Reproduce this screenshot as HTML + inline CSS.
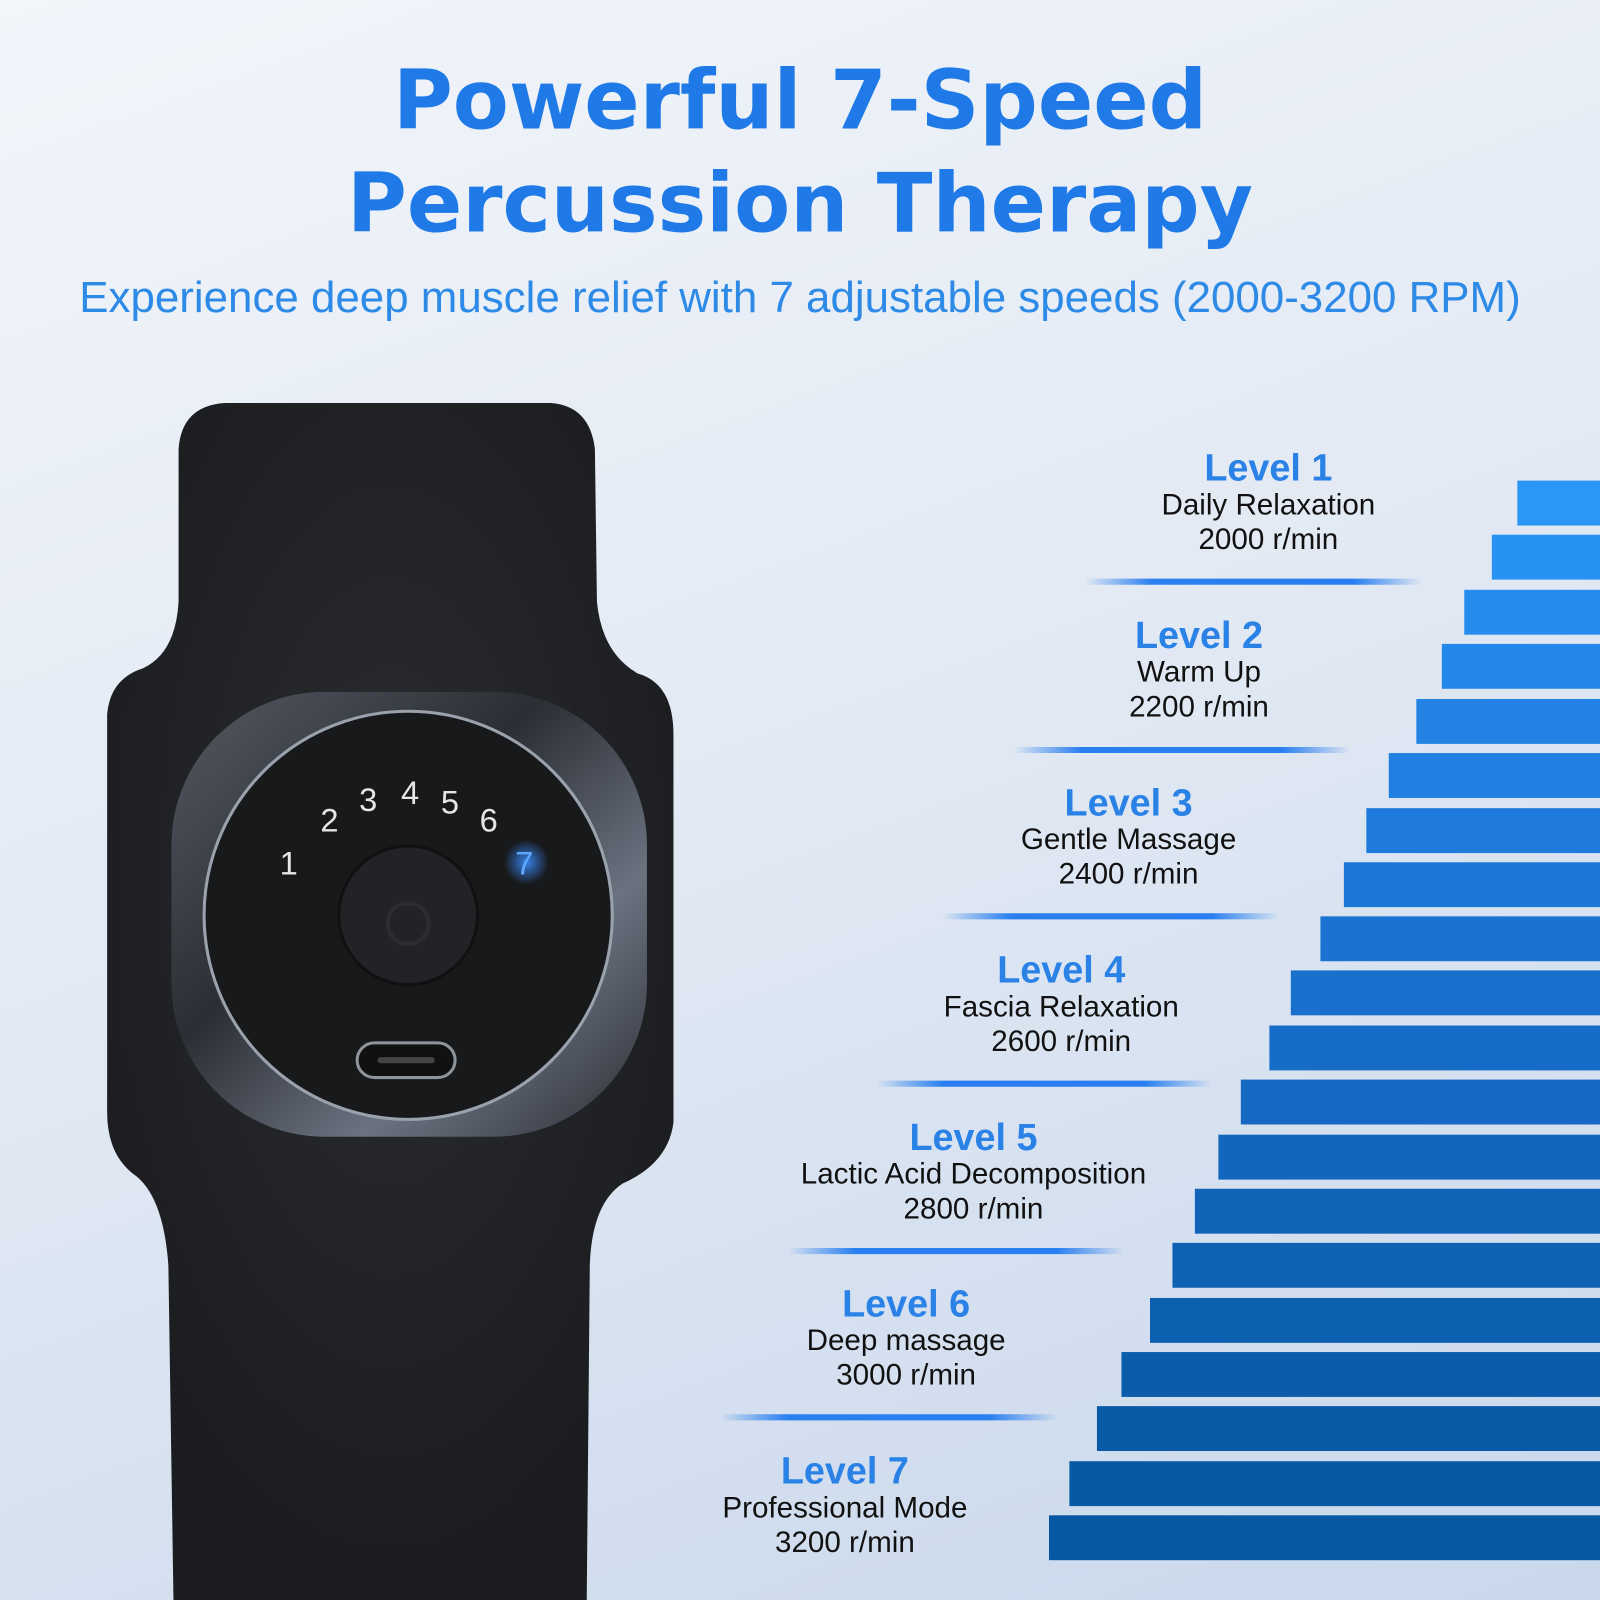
<!DOCTYPE html>
<html><head><meta charset="utf-8"><style>
html,body{margin:0;padding:0;}
body{width:1600px;height:1600px;overflow:hidden;background:linear-gradient(160deg,#f2f5fa 0%,#e3eaf4 45%,#c9d8ec 100%);}
#w{position:absolute;left:0;top:0;width:1568px;height:1568px;transform:scale(1.020408);transform-origin:0 0;}
.t{position:absolute;left:0;width:1568px;text-align:center;color:#1f7ae8;font-family:"DejaVu Sans","Liberation Sans",sans-serif;font-weight:bold;font-size:80px;letter-spacing:0px;}
.sub{position:absolute;left:0;width:1568px;text-align:center;color:#2d8ae6;font-family:"Liberation Sans",sans-serif;font-size:43px;top:268px;}
.bar{position:absolute;right:0;height:44px;}
.lv{position:absolute;width:500px;text-align:center;font-family:"Liberation Sans Narrow","Liberation Sans",sans-serif;}
.lv b{display:block;color:#2a82e6;font-size:37px;line-height:38px;}
.lv span{display:block;color:#111;font-size:29px;line-height:34px;}
.ul{position:absolute;height:6px;border-radius:3px;background:linear-gradient(90deg,rgba(40,120,240,0),#2a7ff0 20%,#2a7ff0 80%,rgba(40,120,240,0));}
</style></head><body><div id="w">
<div class="t" style="top:52px;">Powerful 7-Speed</div>
<div class="t" style="top:153px;">Percussion Therapy</div>
<div class="sub">Experience deep muscle relief with 7 adjustable speeds (2000-3200 RPM)</div>

<svg style="position:absolute;left:0;top:0" width="1568" height="1568">
<defs><radialGradient id="rg" cx="0.5" cy="0.4" r="0.6"><stop offset="0" stop-color="#2a2c30"/><stop offset="1" stop-color="#1b1c1f"/></radialGradient>
<linearGradient id="ring" x1="0" y1="0" x2="1" y2="1"><stop offset="0" stop-color="#555a63"/><stop offset="0.4" stop-color="#2b2e34"/><stop offset="0.7" stop-color="#6b7280"/><stop offset="1" stop-color="#2b2e34"/></linearGradient>
<radialGradient id="glow"><stop offset="0" stop-color="#3a8cff" stop-opacity="0.9"/><stop offset="1" stop-color="#3a8cff" stop-opacity="0"/></radialGradient></defs>
<path d="M175,440 Q178,398 220,395 L540,395 Q578,398 583,440 L585,590 Q590,640 625,660 Q660,670 660,720 L660,1100 Q655,1140 610,1160 Q580,1180 578,1240 L575,1568 L170,1568 L165,1240 Q160,1170 130,1150 Q105,1130 105,1090 L105,700 Q108,665 140,655 Q172,640 175,590 Z" fill="url(#rg)"/>
<rect x="168" y="678" width="466" height="436" rx="150" fill="url(#ring)"/>
<circle cx="400" cy="897" r="200" fill="#18191b" stroke="#9aa2ad" stroke-width="3"/>
<circle cx="400" cy="897" r="68" fill="#222327" stroke="#111" stroke-width="3"/>
<circle cx="400" cy="905" r="20" fill="none" stroke="#2c2d31" stroke-width="4"/>
<rect x="350" y="1022" width="96" height="34" rx="17" fill="#111" stroke="#8e949c" stroke-width="3"/>
<rect x="370" y="1036" width="56" height="6" rx="3" fill="#444"/>
<circle cx="516" cy="845" r="22" fill="url(#glow)"/>
<g font-family="Liberation Sans,sans-serif" font-size="32" fill="#e6e6e6">
<text x="274" y="857">1</text><text x="314" y="815">2</text><text x="352" y="795">3</text><text x="393" y="788">4</text><text x="432" y="797">5</text><text x="470" y="815">6</text><text x="505" y="857" fill="#5fa8ff">7</text></g>
</svg>

<div class="bar" style="left:1487px;top:471px;background:#2a97f6"></div>
<div class="bar" style="left:1462px;top:524px;background:#2892f2"></div>
<div class="bar" style="left:1435px;top:578px;background:#268dee"></div>
<div class="bar" style="left:1413px;top:631px;background:#2488ea"></div>
<div class="bar" style="left:1388px;top:685px;background:#2283e5"></div>
<div class="bar" style="left:1361px;top:738px;background:#207fe0"></div>
<div class="bar" style="left:1339px;top:792px;background:#1e7bdb"></div>
<div class="bar" style="left:1317px;top:845px;background:#1c77d6"></div>
<div class="bar" style="left:1294px;top:898px;background:#1a73d1"></div>
<div class="bar" style="left:1265px;top:951px;background:#186fcc"></div>
<div class="bar" style="left:1244px;top:1005px;background:#176cc7"></div>
<div class="bar" style="left:1216px;top:1058px;background:#1569c2"></div>
<div class="bar" style="left:1194px;top:1112px;background:#1366bd"></div>
<div class="bar" style="left:1171px;top:1165px;background:#1163b8"></div>
<div class="bar" style="left:1149px;top:1218px;background:#0f61b4"></div>
<div class="bar" style="left:1127px;top:1272px;background:#0d5fb0"></div>
<div class="bar" style="left:1099px;top:1325px;background:#0b5dac"></div>
<div class="bar" style="left:1075px;top:1378px;background:#095ba8"></div>
<div class="bar" style="left:1048px;top:1432px;background:#0759a5"></div>
<div class="bar" style="left:1028px;top:1485px;background:#0658a2"></div>

<div class="lv" style="left:993px;top:440px"><b>Level 1</b><span>Daily Relaxation</span><span>2000 r/min</span></div>
<div class="ul" style="left:1063px;top:567px;width:330px"></div>
<div class="lv" style="left:925px;top:604px"><b>Level 2</b><span>Warm Up</span><span>2200 r/min</span></div>
<div class="ul" style="left:993px;top:732px;width:330px"></div>
<div class="lv" style="left:856px;top:768px"><b>Level 3</b><span>Gentle Massage</span><span>2400 r/min</span></div>
<div class="ul" style="left:924px;top:895px;width:330px"></div>
<div class="lv" style="left:790px;top:932px"><b>Level 4</b><span>Fascia Relaxation</span><span>2600 r/min</span></div>
<div class="ul" style="left:858px;top:1059px;width:330px"></div>
<div class="lv" style="left:704px;top:1096px"><b>Level 5</b><span>Lactic Acid Decomposition</span><span>2800 r/min</span></div>
<div class="ul" style="left:772px;top:1223px;width:330px"></div>
<div class="lv" style="left:638px;top:1259px"><b>Level 6</b><span>Deep massage</span><span>3000 r/min</span></div>
<div class="ul" style="left:706px;top:1386px;width:330px"></div>
<div class="lv" style="left:578px;top:1423px"><b>Level 7</b><span>Professional Mode</span><span>3200 r/min</span></div>
</div></body></html>
